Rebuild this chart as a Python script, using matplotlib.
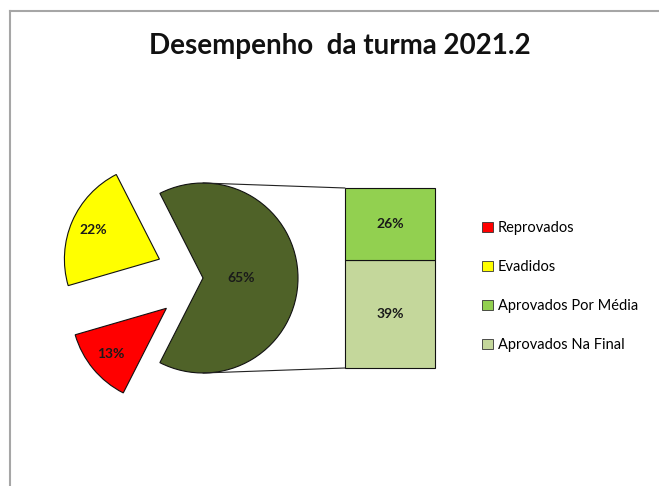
import numpy as np
import matplotlib
matplotlib.use("Agg")
import matplotlib.pyplot as plt
from matplotlib.patches import Patch, ConnectionPatch
from matplotlib.lines import Line2D

plt.rcParams['font.family'] = ['Lato', 'DejaVu Sans']

# dados
categorias = ['Reprovados', 'Evadidos', 'Aprovados Por Média', 'Aprovados Na Final']
valores = [13, 22, 26, 39]
cores = ['#ff0000', '#ffff00', '#92d050', '#c4d79b']
cor_outros = '#4f6228'

outros = valores[2] + valores[3]

fig = plt.figure(figsize=(6.59, 4.86), dpi=100)

# eixo em pixels para a pizza
ax = fig.add_axes([0, 0, 1, 1])
fatias = [outros, valores[1], valores[0]]
cores_pizza = [cor_outros, cores[1], cores[0]]
raio = 95
centro = (203, 208)
wedges, _ = ax.pie(fatias, colors=cores_pizza, explode=[0, 0.5 * raio, 0.5 * raio],
                   startangle=-outros / 100 * 360 / 2, radius=raio, center=centro,
                   wedgeprops=dict(edgecolor='#111111', linewidth=0.8))
ax.set_xlim(0, 659)
ax.set_ylim(0, 486)
ax.axis('off')

# rotulos de porcentagem
dist = [0.4, 0.76, 0.76]
for w, v, d in zip(wedges, fatias, dist):
    ang = np.deg2rad((w.theta1 + w.theta2) / 2)
    cx, cy = w.center
    ax.text(cx + d * raio * np.cos(ang), cy + d * raio * np.sin(ang), f'{v}%',
            ha='center', va='center', fontsize=10, fontweight='bold', color='#1a1a1a')

# barra
axb = fig.add_axes([345 / 659, 118 / 486, 90 / 659, 180 / 486])
b1 = axb.bar(0, valores[3], width=1, color=cores[3], edgecolor='#111111', linewidth=0.8,
             clip_on=False)
b2 = axb.bar(0, valores[2], width=1, bottom=valores[3], color=cores[2],
             edgecolor='#111111', linewidth=0.8, clip_on=False)
axb.bar_label(b1, labels=[f'{valores[3]}%'], label_type='center', fontsize=10,
              fontweight='bold', color='#1a1a1a')
axb.bar_label(b2, labels=[f'{valores[2]}%'], label_type='center', fontsize=10,
              fontweight='bold', color='#1a1a1a')
axb.set_xlim(-0.5, 0.5)
axb.set_ylim(0, outros)
axb.axis('off')

# linhas de ligacao
for yp, yb in [(raio, outros), (-raio, 0)]:
    con = ConnectionPatch(xyA=(centro[0], centro[1] + yp), coordsA=ax.transData,
                          xyB=(-0.5, yb), coordsB=axb.transData,
                          color='#222222', linewidth=0.8)
    fig.add_artist(con)

# legenda
handles = [Patch(facecolor=c, edgecolor='#333333', linewidth=0.6) for c in cores]
fig.legend(handles, categorias, loc='upper left', bbox_to_anchor=(482 / 659, 1 - 221 / 486),
           frameon=False, fontsize=10.5, handlelength=0.72, handleheight=0.72,
           handletextpad=0.35, labelspacing=1.72, borderpad=0, borderaxespad=0)

fig.text(340 / 659, 1 - 46 / 486, 'Desempenho  da turma 2021.2', ha='center', va='center',
         fontsize=20, fontweight='bold', color='#111111')

# moldura
fig.add_artist(Line2D([10 / 659, 10 / 659], [0, 1 - 11 / 486], transform=fig.transFigure,
                      color='#a6a6a6', linewidth=1.5))
fig.add_artist(Line2D([10 / 659, 1], [1 - 11 / 486, 1 - 11 / 486], transform=fig.transFigure,
                      color='#a6a6a6', linewidth=1.5))

fig.savefig('out.png', dpi=100)
